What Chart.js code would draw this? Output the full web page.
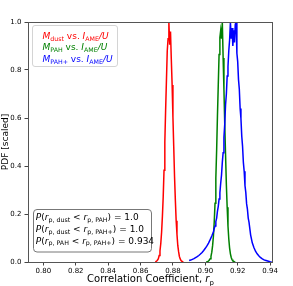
<!DOCTYPE html>
<html>
<head>
<meta charset="utf-8">
<script src="https://cdn.jsdelivr.net/npm/chart.js@4.4.1/dist/chart.umd.min.js"></script>
<style>
  html, body { margin: 0; padding: 0; background: #ffffff; }
  #wrap { width: 293px; height: 286px; }
</style>
</head>
<body>
<div id="wrap"><canvas id="c" width="293" height="286"></canvas></div>
<script>
// ---------------- data ----------------
const dustX = [0.8690,0.8695,0.8700,0.8705,0.8710,0.8715,0.8720,0.8725,0.8730,0.8735,0.8740,0.8745,0.8750,0.8755,0.8760,0.8765,0.8770,0.8775,0.8780,0.8785,0.8790,0.8795,0.8800,0.8805,0.8810,0.8815,0.8820,0.8825,0.8830,0.8835,0.8840,0.8845,0.8850,0.8855,0.8860,0.8865];
const dustY = [0.000,0.002,0.004,0.008,0.014,0.027,0.046,0.077,0.124,0.190,0.272,0.382,0.500,0.636,0.758,0.880,0.930,1.000,0.905,0.960,0.845,0.738,0.604,0.480,0.355,0.257,0.172,0.115,0.069,0.043,0.023,0.013,0.006,0.003,0.001,0.000];

const pahX = [0.9005,0.9010,0.9015,0.9020,0.9025,0.9030,0.9035,0.9040,0.9045,0.9050,0.9055,0.9060,0.9065,0.9070,0.9075,0.9080,0.9085,0.9090,0.9095,0.9100,0.9105,0.9110,0.9115,0.9120,0.9125,0.9130,0.9135,0.9140,0.9145,0.9150,0.9155,0.9160,0.9165,0.9170,0.9175,0.9180,0.9185];
const pahY = [0.000,0.001,0.002,0.004,0.008,0.014,0.024,0.041,0.068,0.108,0.166,0.245,0.350,0.468,0.610,0.738,0.865,0.935,0.965,0.930,1.000,0.850,0.720,0.575,0.448,0.322,0.228,0.150,0.096,0.058,0.034,0.019,0.010,0.005,0.003,0.001,0.000];

const pahPlusX = [0.8900,0.8910,0.8920,0.8930,0.8940,0.8950,0.8960,0.8970,0.8980,0.8990,0.9000,0.9010,0.9020,0.9030,0.9040,0.9050,0.9055,0.9060,0.9065,0.9070,0.9075,0.9080,0.9085,0.9090,0.9095,0.9100,0.9105,0.9110,0.9115,0.9120,0.9125,0.9130,0.9135,0.9140,0.9145,0.9150,0.9155,0.9160,0.9165,0.9170,0.9175,0.9180,0.9185,0.9190,0.9195,0.9200,0.9205,0.9210,0.9215,0.9220,0.9225,0.9230,0.9235,0.9240,0.9245,0.9250,0.9255,0.9260,0.9265,0.9270,0.9280,0.9290,0.9300,0.9310,0.9320,0.9330,0.9340,0.9350,0.9360,0.9370,0.9380,0.9390,0.9400,0.9410];
const pahPlusY = [0.006,0.008,0.011,0.014,0.018,0.022,0.027,0.033,0.040,0.048,0.057,0.067,0.079,0.093,0.108,0.125,0.140,0.150,0.168,0.183,0.212,0.232,0.262,0.288,0.328,0.362,0.415,0.455,0.520,0.575,0.655,0.700,0.775,0.815,0.880,0.925,1.000,0.930,0.975,0.900,0.965,0.915,0.990,1.000,0.870,0.835,0.760,0.720,0.640,0.598,0.525,0.482,0.415,0.378,0.318,0.290,0.242,0.220,0.183,0.165,0.112,0.080,0.060,0.045,0.034,0.026,0.019,0.014,0.010,0.007,0.005,0.003,0.001,0.000];

const xTickValues = [0.80,0.82,0.84,0.86,0.88,0.90,0.92,0.94];
const yTickValues = [0.0,0.2,0.4,0.6,0.8,1.0];

const probLabels = [
  {a:'p, dust', b:'p, PAH', v:'1.0'},
  {a:'p, dust', b:'p, PAH+', v:'1.0'},
  {a:'p, PAH',  b:'p, PAH+', v:'0.934'}
];
// -------------------------------------------------------------

const FAM = "'DejaVu Sans', sans-serif";
const RED = '#ff0000', GREEN = '#008000', BLUE = '#0000ff';

function pts(xs, ys) { return xs.map((x, i) => ({x: x, y: ys[i]})); }

function richWidth(ctx, segs, size) {
  let w = 0;
  for (const s of segs) {
    const sz = s.s ? size * 0.7 : size;
    ctx.font = (s.i ? 'italic ' : '') + sz + 'px ' + FAM;
    w += ctx.measureText(s.t).width;
  }
  return w;
}
function drawRich(ctx, segs, x, y, size, color) {
  let cx = x;
  ctx.fillStyle = color;
  ctx.textBaseline = 'alphabetic';
  ctx.textAlign = 'left';
  for (const s of segs) {
    const sz = s.s ? size * 0.7 : size;
    ctx.font = (s.i ? 'italic ' : '') + sz + 'px ' + FAM;
    ctx.fillText(s.t, cx, y + (s.s ? size * 0.22 : 0));
    cx += ctx.measureText(s.t).width;
  }
  return cx;
}
function roundRectPath(ctx, x, y, w, h, r) {
  ctx.beginPath();
  ctx.moveTo(x + r, y);
  ctx.lineTo(x + w - r, y);
  ctx.quadraticCurveTo(x + w, y, x + w, y + r);
  ctx.lineTo(x + w, y + h - r);
  ctx.quadraticCurveTo(x + w, y + h, x + w - r, y + h);
  ctx.lineTo(x + r, y + h);
  ctx.quadraticCurveTo(x, y + h, x, y + h - r);
  ctx.lineTo(x, y + r);
  ctx.quadraticCurveTo(x, y, x + r, y);
  ctx.closePath();
}

const deco = {
  id: 'deco',
  afterDraw(chart) {
    const ctx = chart.ctx;
    const a = chart.chartArea;
    ctx.save();
    // frame
    ctx.strokeStyle = '#555';
    ctx.lineWidth = 1;
    ctx.strokeRect(Math.round(a.left) + 0.5, Math.round(a.top) + 0.5, Math.round(a.right - a.left) - 1, Math.round(a.bottom - a.top));

    // legend
    roundRectPath(ctx, 32.5, 25.5, 85, 41, 2.5);
    ctx.fillStyle = 'rgba(255,255,255,0.9)';
    ctx.fill();
    ctx.strokeStyle = '#d4d4d4';
    ctx.stroke();
    const legendRows = [
      {name: 'dust', color: RED},
      {name: 'PAH', color: GREEN},
      {name: 'PAH+', color: BLUE}
    ];
    legendRows.forEach((r, i) => {
      drawRich(ctx, [
        {t:'M', i:1}, {t:r.name, s:1}, {t:' vs. '},
        {t:'I', i:1}, {t:'AME', s:1}, {t:'/U', i:1}
      ], 42.5, 38.6 + i * 11.6, 9, r.color);
    });

    // probability box
    roundRectPath(ctx, 33.5, 209.5, 118, 42.5, 3.5);
    ctx.fillStyle = 'rgba(255,255,255,0.9)';
    ctx.fill();
    ctx.strokeStyle = '#777';
    ctx.stroke();
    probLabels.forEach((p, i) => {
      drawRich(ctx, [
        {t:'P', i:1}, {t:'('}, {t:'r', i:1}, {t:p.a, s:1}, {t:' < '},
        {t:'r', i:1}, {t:p.b, s:1}, {t:') = ' + p.v}
      ], 35.8, 219.9 + i * 11.8, 9, '#000');
    });

    // x axis title
    const xt = [{t:'Correlation Coefficient, '}, {t:'r', i:1}, {t:'p', s:1}];
    const w = richWidth(ctx, xt, 10);
    drawRich(ctx, xt, (a.left + a.right) / 2 - w / 2, 282.3, 10, '#000');

    // y axis title
    ctx.translate(8.3, (a.top + a.bottom) / 2);
    ctx.rotate(-Math.PI / 2);
    ctx.font = '9px ' + FAM;
    ctx.fillStyle = '#000';
    ctx.textAlign = 'center';
    ctx.textBaseline = 'alphabetic';
    ctx.fillText('PDF [scaled]', 0, 0);
    ctx.restore();
  }
};

const tickFont = {size: 7, family: FAM};

new Chart(document.getElementById('c'), {
  type: 'line',
  data: {
    datasets: [
      {label: 'dust', data: pts(dustX, dustY), borderColor: RED, borderWidth: 1.5, pointRadius: 0, tension: 0, fill: false, order: 2},
      {label: 'PAH', data: pts(pahX, pahY), borderColor: GREEN, borderWidth: 1.5, pointRadius: 0, tension: 0, fill: false, order: 1},
      {label: 'PAH+', data: pts(pahPlusX, pahPlusY), borderColor: BLUE, borderWidth: 1.5, pointRadius: 0, tension: 0, fill: false, order: 0}
    ]
  },
  options: {
    responsive: false,
    animation: false,
    devicePixelRatio: 1,
    layout: {padding: {left: 0, right: 20, top: 22, bottom: 0}},
    plugins: {legend: {display: false}, tooltip: {enabled: false}, title: {display: false}},
    scales: {
      x: {
        type: 'linear',
        min: 0.7905,
        max: 0.9418,
        afterBuildTicks: s => { s.ticks = xTickValues.map(v => ({value: v})); },
        afterFit: s => { s.height = 24; },
        ticks: {callback: v => Number(v).toFixed(2), font: tickFont, color: '#000', padding: 1, maxRotation: 0, autoSkip: false},
        grid: {display: true, drawOnChartArea: false, drawTicks: true, tickLength: 3.5, color: '#444'},
        border: {display: false}
      },
      y: {
        type: 'linear',
        min: 0,
        max: 1,
        afterBuildTicks: s => { s.ticks = yTickValues.map(v => ({value: v})); },
        afterFit: s => { s.width = 28; },
        ticks: {callback: v => Number(v).toFixed(1), font: tickFont, color: '#000', padding: 3, autoSkip: false},
        grid: {display: true, drawOnChartArea: false, drawTicks: true, tickLength: 3.5, color: '#444'},
        border: {display: false}
      }
    }
  },
  plugins: [deco]
});
</script>
</body>
</html>
